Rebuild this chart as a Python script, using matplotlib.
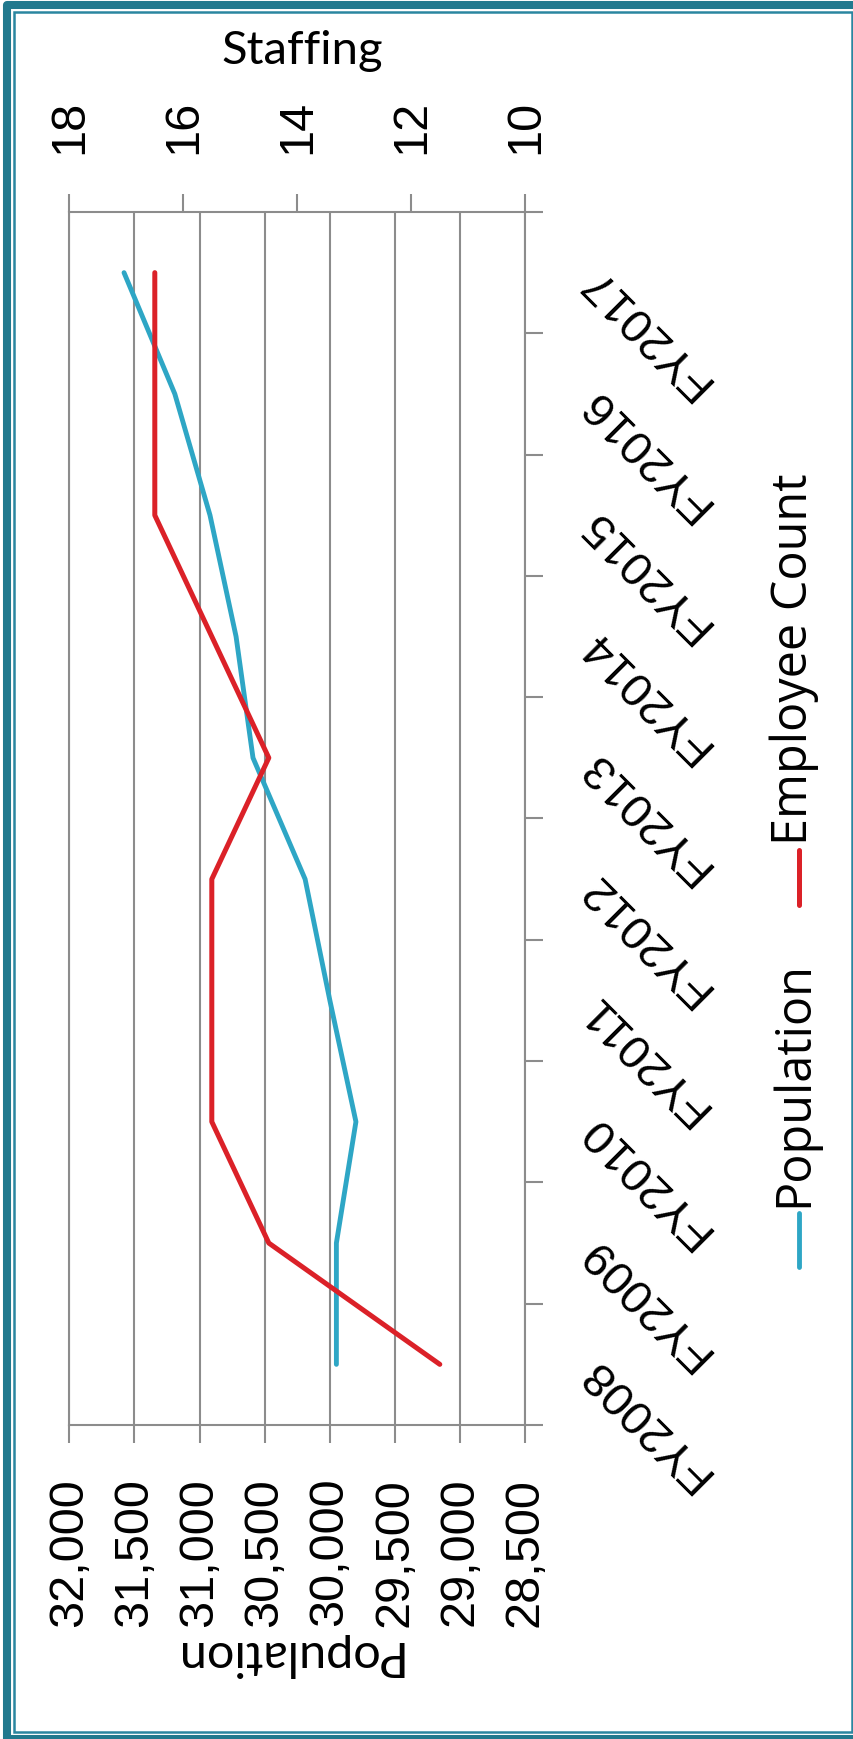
import numpy as np
import matplotlib
matplotlib.use("Agg")
import matplotlib.pyplot as plt
from matplotlib.lines import Line2D
from matplotlib.patches import Rectangle
from matplotlib.transforms import blended_transform_factory

years = ["FY2008", "FY2009", "FY2010", "FY2011", "FY2012",
         "FY2013", "FY2014", "FY2015", "FY2016", "FY2017"]
population = [29950, 29950, 29800, 30000, 30190, 30590, 30720, 30920, 31190, 31580]
staffing = [11.5, 14.5, 15.5, 15.5, 15.5, 14.5, 15.5, 16.5, 16.5, 16.5]

pop_ticks = [28500, 29000, 29500, 30000, 30500, 31000, 31500, 32000]
staff_ticks = [10, 12, 14, 16, 18]

plt.rcParams["font.family"] = ["Liberation Sans", "DejaVu Sans"]

W, H = 854, 1739
BLUE = "#2ea6c5"
RED = "#db2128"
GREY = "#8c8c8c"
TEAL = "#21798e"


def fx(x):
    return x / W


def fy(y):
    return 1 - y / H


fig = plt.figure(figsize=(W / 100, H / 100), dpi=100)
fig.patch.set_facecolor("white")

# frame: thick rounded outer border plus a thin inner one
fig.add_artist(Rectangle((fx(7), fy(1739)), fx(870) - fx(7), fy(4.5) - fy(1739),
                         transform=fig.transFigure, fill=False, ec=TEAL, lw=5.8,
                         joinstyle="round", clip_on=False))
fig.add_artist(Rectangle((fx(14), fy(1732)), fx(852) - fx(14), fy(11.7) - fy(1732),
                         transform=fig.transFigure, fill=False, ec="#2a86a0", lw=1.8,
                         clip_on=False))

ax = fig.add_axes([fx(69.3), fy(1425), fx(456), 1213 / H])
idx = np.arange(len(years))

ax.plot(population, idx, color=BLUE, lw=3.5, solid_capstyle="round",
        solid_joinstyle="round", zorder=3)
ax.set_xlim(32000, 28500)
ax.set_ylim(-0.5, len(years) - 0.5)
ax.set_xticks(pop_ticks)
ax.set_xticklabels([f"{v:,}" for v in pop_ticks])
ax.tick_params(axis="x", direction="out", length=13, width=1.5, color=GREY,
               pad=25, labelsize=35, labelrotation=90)
ax.grid(axis="x", color=GREY, lw=1.5)
ax.set_axisbelow(True)

# category boundaries as ticks on the right edge
ax.yaxis.tick_right()
ax.set_yticks(np.arange(-0.5, len(years), 1))
ax.set_yticklabels([])
ax.tick_params(axis="y", direction="out", length=13, width=1.5, color=GREY)
for s in ax.spines.values():
    s.set_color(GREY)
    s.set_linewidth(1.5)

trans = blended_transform_factory(ax.transAxes, ax.transData)
for i, lab in enumerate(years):
    ax.text(1.135, i, lab, transform=trans, rotation=135, rotation_mode="anchor",
            ha="right", va="center", fontsize=34)

ax2 = ax.twiny()
ax2.plot(staffing, idx, color=RED, lw=3.6, solid_capstyle="round",
         solid_joinstyle="round", zorder=4)
ax2.set_xlim(18, 10)
ax2.set_xticks(staff_ticks)
ax2.set_xticklabels([str(v) for v in staff_ticks])
ax2.tick_params(axis="x", direction="out", length=13, width=1.5, color=GREY,
                pad=29, labelsize=35, labelrotation=90)
for s in ax2.spines.values():
    s.set_visible(False)

fig.text(fx(302), fy(64), "Staffing", ha="center", va="baseline",
         family="Lato", fontsize=34)
fig.text(fx(285), fy(1655), "Population", ha="center", va="center",
         rotation=180, family="Lato", fontsize=35)

# legend, drawn upright along the right side
fig.add_artist(Line2D([fx(799), fx(799)], [fy(1213), fy(1267)], color=BLUE,
                      lw=3.5, solid_capstyle="round"))
fig.text(fx(807), fy(1207), "Population", rotation=90, rotation_mode="anchor",
         ha="left", va="baseline", family="Open Sans", fontsize=35)
fig.add_artist(Line2D([fx(799), fx(799)], [fy(850), fy(905)], color=RED,
                      lw=3.6, solid_capstyle="round"))
fig.text(fx(807), fy(845), "Employee Count", rotation=90, rotation_mode="anchor",
         ha="left", va="baseline", family="Open Sans", fontsize=35)

fig.savefig("out.png", dpi=100)
